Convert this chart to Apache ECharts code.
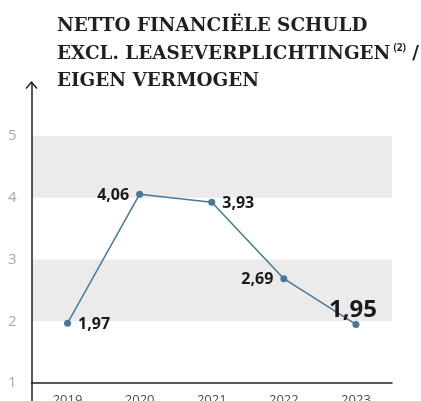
<!DOCTYPE html>
<html>
<head>
<meta charset="utf-8">
<script src="https://cdn.jsdelivr.net/npm/echarts@6/dist/echarts.min.js"></script>
<style>
  html, body { margin: 0; padding: 0; background: #fff; }
  #chart { width: 421px; height: 401px; }
</style>
</head>
<body>
<div id="chart"></div>
<script>
const years = ["2019", "2020", "2021", "2022", "2023"];
const ratios = [1.97, 4.06, 3.93, 2.69, 1.95];
const yTicks = [1, 2, 3, 4, 5];
const bands = [[2, 3], [4, 5]];

(function () {
  const node = document.getElementById("chart");
  const chart = echarts.init(node);

  const labelPos = ["right", "left", "right", "left", "top"];
  const fmt = (v) => v.toFixed(2).replace(".", ",");

  chart.setOption({
    animation: false,
    backgroundColor: "#fff",
    title: {
      left: 52,
      top: 8,
      text:
        "{t|NETTO FINANCIËLE SCHULD}\n" +
        "{t|EXCL. LEASEVERPLICHTINGEN}{s|(2)}{t| /}\n" +
        "{t|EIGEN VERMOGEN}",
      textStyle: {
        rich: {
          t: {
            fontFamily: "DejaVu Serif",
            fontWeight: "bold",
            fontSize: 18.4,
            lineHeight: 27.2,
            color: "#231f20",
          },
          s: {
            fontFamily: "Open Sans",
            fontSize: 10,
            lineHeight: 27.2,
            color: "#231f20",
            padding: [0, 0, 12, 3],
          },
        },
      },
    },
    grid: {
      left: 31.5,
      right: 29,
      top: 83,
      bottom: 0,
      outerBoundsMode: "none",
      containLabel: false,
    },
    xAxis: {
      type: "category",
      data: years,
      offset: -18,
      axisLine: { lineStyle: { color: "#231f20", width: 1.5 } },
      axisTick: { show: false },
      axisLabel: {
        margin: 11,
        color: "#4d4d4d",
        fontFamily: "Open Sans",
        fontSize: 13,
      },
    },
    yAxis: {
      type: "value",
      min: 0.71,
      max: 5.86,
      z: 5,
      splitLine: { show: false },
      axisTick: { show: false },
      axisLine: {
        show: true,
        lineStyle: { color: "#231f20", width: 1.5 },
        symbol: ["none", "path://M0 6.8 L6 0 L12 6.8 L10.9 7.8 L6 2.2 L1.1 7.8 Z"],
        symbolSize: [12, 8],
        symbolOffset: [0, -2],
      },
      axisLabel: {
        customValues: yTicks,
        margin: 15,
        color: "#a7a9ac",
        fontFamily: "Open Sans",
        fontSize: 15,
      },
    },
    series: [
      {
        type: "line",
        z: 1,
        data: [],
        silent: true,
        markArea: {
          silent: true,
          itemStyle: { color: "#ebebeb" },
          data: bands.map((b) => [{ yAxis: b[0] }, { yAxis: b[1] }]),
        },
      },
      {
        type: "line",
        z: 3,
        data: ratios.map((v, i) => {
          const big = i === ratios.length - 1;
          return {
            value: v,
            label: {
              position: labelPos[i],
              fontSize: big ? 24 : 16,
              distance: big ? -1 : 7,
              offset: big ? [-3, 0] : [0, 1],
            },
          };
        }),
        symbol: "circle",
        symbolSize: 7,
        lineStyle: { color: "#4a7899", width: 1.5 },
        itemStyle: { color: "#4a7899" },
        label: {
          show: true,
          formatter: (p) => fmt(p.value),
          fontFamily: "Open Sans",
          fontWeight: "bold",
          color: "#1a1a1a",
        },
      },
    ],
  });

  window.addEventListener("resize", function () {
    chart.resize();
  });
})();
</script>
</body>
</html>
